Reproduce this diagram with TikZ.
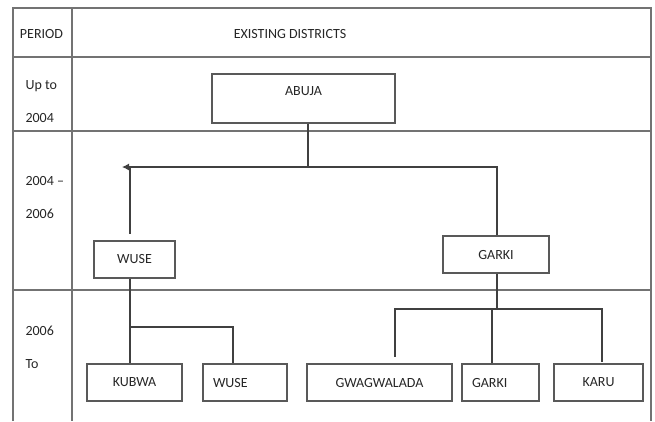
\documentclass[tikz,border=0pt]{standalone}
\usepackage{fontspec}
\setmainfont{Carlito}
\usepackage{tikz}
\usetikzlibrary{arrows.meta,positioning}

\begin{document}
\begin{tikzpicture}[x=1pt, y=-1pt, font=\fontsize{14}{16}\selectfont]
    \tikzstyle{grid} = [draw=black!55, line width=1.2pt]
    \tikzstyle{box} = [rectangle, draw=black!65, line width=1.1pt, text=black!85, minimum height=37pt, inner sep=0pt]
    \tikzstyle{period} = [anchor=west, align=left, text=black!85, font=\fontsize{14}{33}\selectfont]
    \tikzstyle{line} = [draw=black!75, line width=1.1pt]

    \useasboundingbox (0,0) rectangle (655,421);

    % table
    \draw [grid] (13,421) -- (13,8) -- (651,8) -- (651,421);
    \draw [grid] (72,8) -- (72,421);
    \foreach \y in {57,131,290}
        \draw [grid] (13,\y) -- (651,\y);

    \node [text=black!85] (period) at (41.5,34) {PERIOD};
    \node [text=black!85] (existing) at (290,34) {EXISTING DISTRICTS};
    \node [period] (row1) at (22,102) {Up to\\2004};
    \node [period] (row2) at (22,197.5) {2004 --\\2006};
    \node [period] (row3) at (22,347) {2006\\To};

    % districts
    \node [box, minimum width=183pt, text height=21pt, text depth=28pt] (abuja) at (303.5,98.5) {ABUJA};
    \node [box, minimum width=81pt] (wuse) at (134.5,259.5) {WUSE};
    \node [box, minimum width=106pt] (garki) at (496,254.5) {GARKI};

    \node [box, minimum width=95pt] (kubwa) at (134.5,382.5) {KUBWA};
    \node [box, minimum width=84pt, text width=64pt, align=left] (wusenew) at (245,382.5) {WUSE};
    \node [box, minimum width=145pt] (gwagwalada) at (379.5,382.5) {GWAGWALADA};
    \node [box, minimum width=77pt, text width=57pt, align=left] (garkinew) at (500.5,382.5) {GARKI};
    \node [box, minimum width=89pt] (karu) at (598.5,382.5) {KARU};

    \coordinate (split) at (308,167);
    \coordinate (turn) at (130,167);
    \coordinate (wsplit) at (130,327);
    \coordinate (gsplit) at (497,309);

    \path [line] ([xshift=4.5pt]abuja.south) -- (split);
    \path [line, -{Latex[length=7pt,width=7pt]}] (split) -- ([xshift=-8pt]turn);
    \path [line] (split) -| ([xshift=1pt]garki.north);
    \path [line, shorten >=6pt] (turn) -- (turn |- wuse.north);

    \path [line] ([xshift=-4.5pt]wuse.south) -- ([xshift=-4.5pt]kubwa.north);
    \path [line] (wsplit) -| ([xshift=-12pt]wusenew.north);

    \path [line] ([xshift=1pt]garki.south) -- (gsplit);
    \path [line, shorten >=6pt] (gsplit) -| ([xshift=15.5pt]gwagwalada.north);
    \path [line, shorten >=1pt] (gsplit) -| ([xshift=3.5pt]karu.north);
    \path [line] ([xshift=-8.5pt]garkinew.north) -- ([xshift=-8.5pt]garkinew.north |- gsplit);
\end{tikzpicture}
\end{document}
